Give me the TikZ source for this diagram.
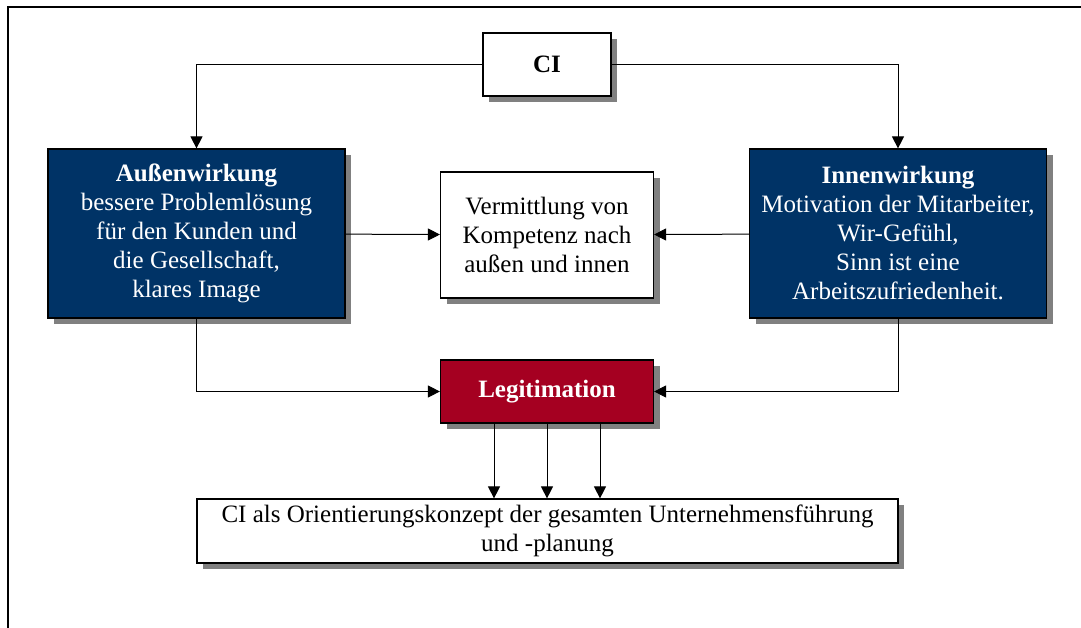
\documentclass[tikz,border=0pt]{standalone}
\usepackage{fontspec}
\setmainfont{Liberation Serif}
\usetikzlibrary{arrows.meta,shadows,positioning}
\definecolor{ciblue}{RGB}{0,51,102}
\definecolor{cired}{RGB}{165,0,33}
\definecolor{shadowgray}{RGB}{128,128,128}

\begin{document}
\begin{tikzpicture}[->,>={Triangle[length=12pt,width=12pt]},x=1pt,y=-1pt,line width=1pt,
  every node/.style={font=\fontsize{25}{29}\selectfont,align=center,inner sep=0pt},
  box node/.style={rectangle,draw=black,line width=1.2pt,
    drop shadow={shadow xshift=6pt,shadow yshift=-6pt,fill=shadowgray,opacity=1}},
  white node/.style={box node,fill=white,text=black},
  blue node/.style={box node,fill=ciblue,text=white,minimum width=297pt,minimum height=169pt},
  red node/.style={box node,fill=cired,text=white,font=\fontsize{25}{29}\selectfont\bfseries}]

  \useasboundingbox (0,0) rectangle (1081,628);
  \draw[-,line width=2pt] (8,640) -- (8,7) -- (1090,7);

  \node[white node,minimum width=128pt,minimum height=63pt] (ci) at (547,64.5) {\textbf{CI}};
  \node[blue node] (aw) at (196.5,233.5) {\textbf{Außenwirkung}\\bessere Problemlösung\\für den Kunden und\\die Gesellschaft,\\klares Image};
  \node[blue node] (iw) at (898,233.5) {\textbf{Innenwirkung}\\Motivation der Mitarbeiter,\\Wir-Gefühl,\\Sinn ist eine\\Arbeitszufriedenheit.};
  \node[white node,minimum width=213pt,minimum height=126pt] (vm) at (547,235) {Vermittlung von\\Kompetenz nach\\außen und innen};
  \node[red node,minimum width=213pt,minimum height=63pt] (lg) at (547,391.5) {Legitimation};
  \node[white node,minimum width=701pt,minimum height=64pt] (ok) at (547.5,531) {CI als Orientierungskonzept der gesamten Unternehmensführung\\und -planung};

  \draw (ci.west) -| (aw.north);
  \draw (ci.east) -| (iw.north);
  \path
    (aw) edge (vm)
    (iw) edge (vm);
  \draw (aw.south) |- (lg.west);
  \draw (iw.south) |- (lg.east);
  \foreach \dx in {-53,0,53}
    \draw ([xshift=\dx pt]lg.south) -- ([xshift=\dx pt]lg.south |- ok.north);
\end{tikzpicture}
\end{document}
